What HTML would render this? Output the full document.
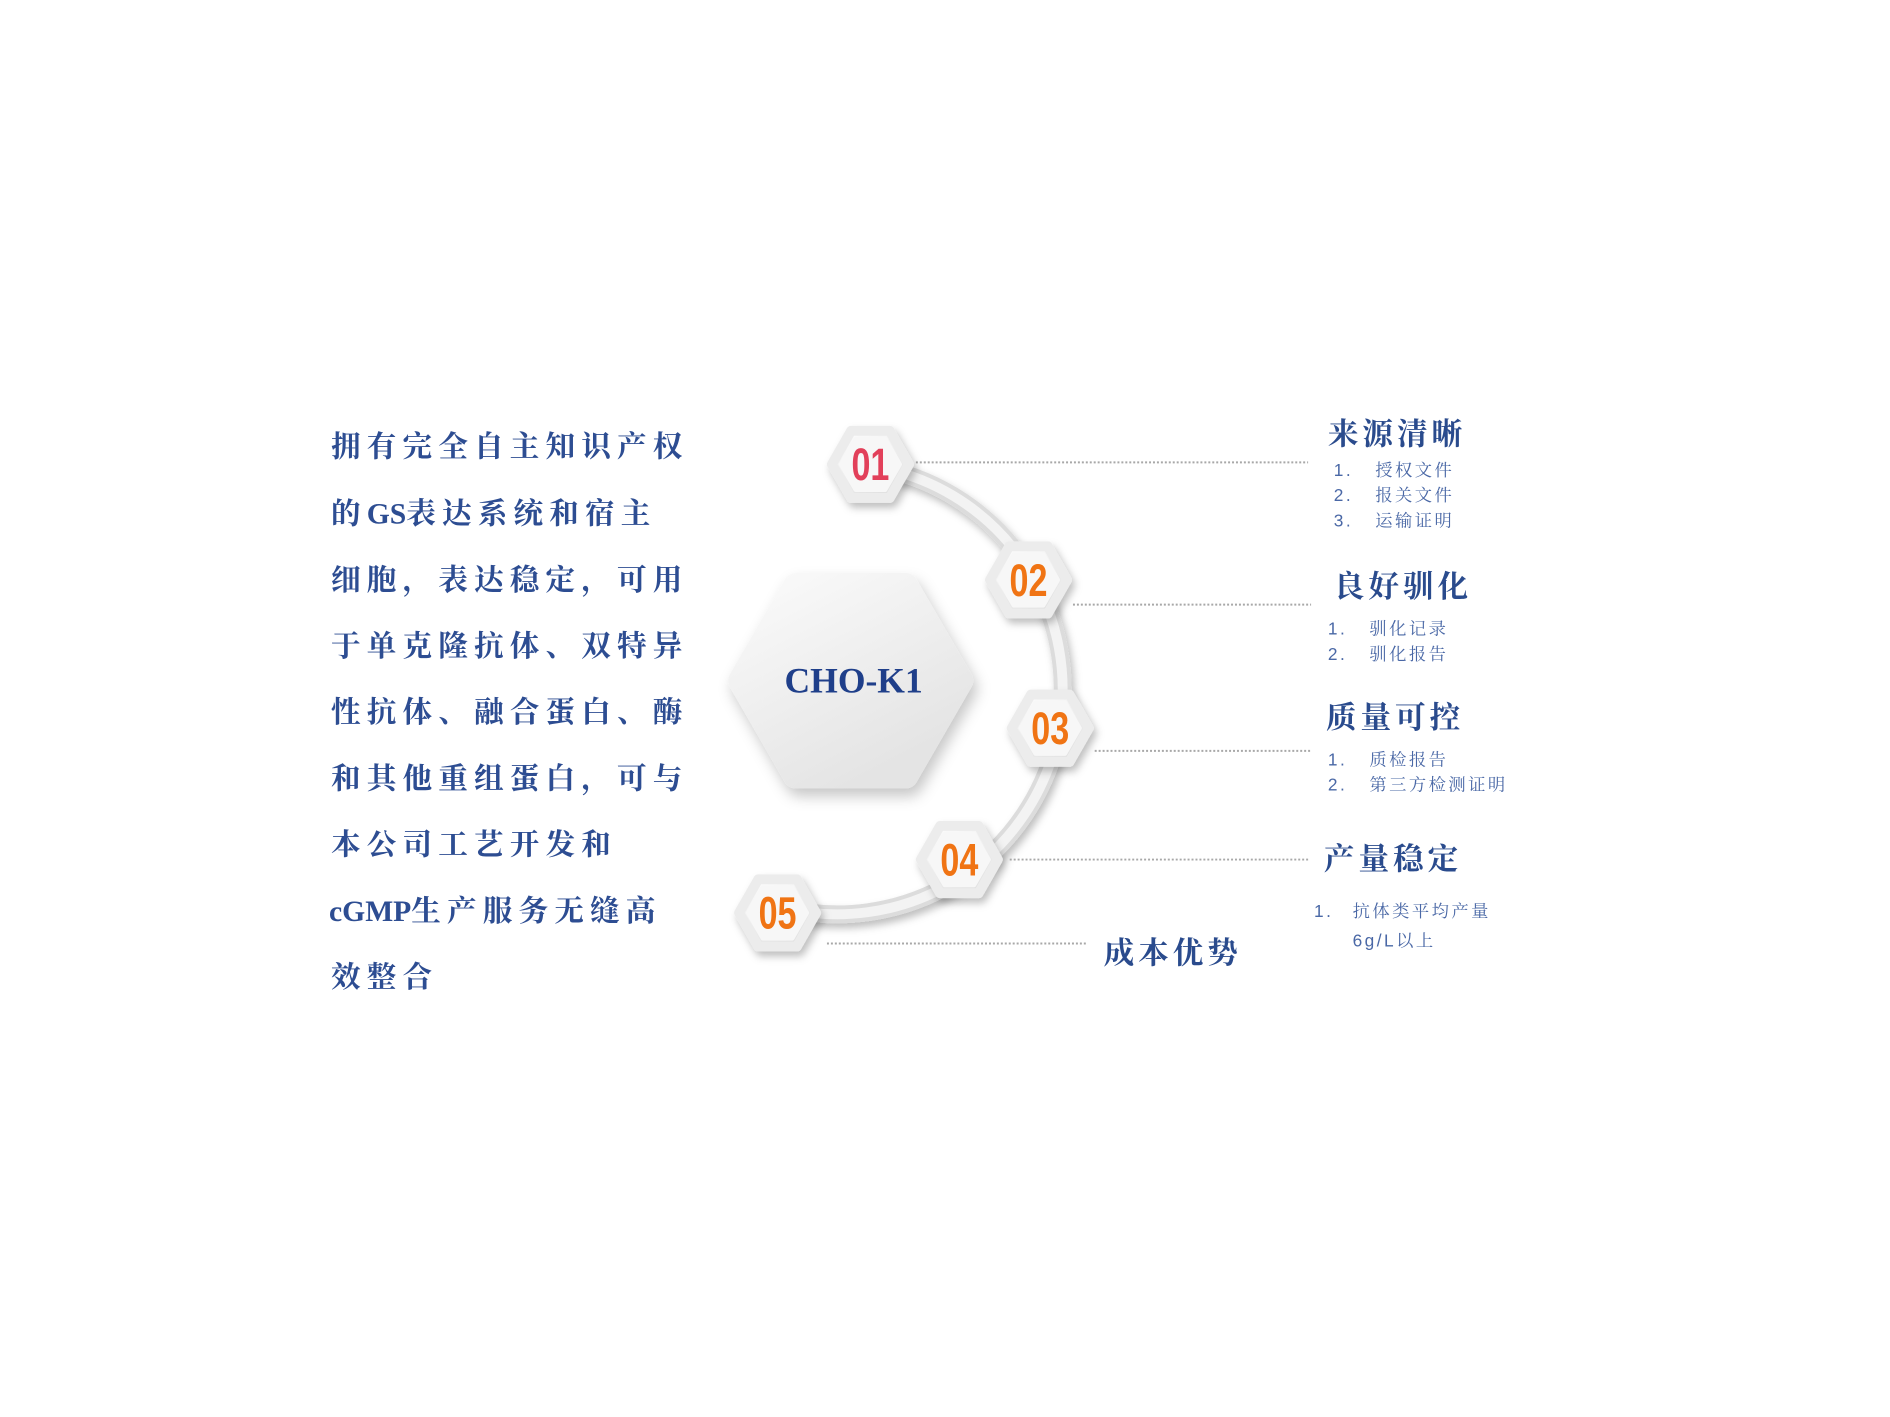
<!DOCTYPE html>
<html><head><meta charset="utf-8"><style>
html,body{margin:0;padding:0;background:#fff;}
svg{display:block}
</style></head><body>
<svg width="1890" height="1417" viewBox="0 0 1890 1417" xmlns="http://www.w3.org/2000/svg">
<defs>
<linearGradient id="hg" x1="0" y1="0" x2="0.6" y2="1">
<stop offset="0" stop-color="#fafafa"/><stop offset="1" stop-color="#e4e4e4"/></linearGradient>
<linearGradient id="sg" x1="0" y1="0" x2="0.5" y2="1">
<stop offset="0" stop-color="#ffffff"/><stop offset="1" stop-color="#e2e2e2"/></linearGradient>
<filter id="sh" x="-30%" y="-30%" width="160%" height="170%">
<feDropShadow dx="4" dy="8" stdDeviation="7" flood-color="#000" flood-opacity="0.22"/></filter>
<filter id="sh2" x="-30%" y="-30%" width="160%" height="170%">
<feDropShadow dx="3" dy="5" stdDeviation="4" flood-color="#000" flood-opacity="0.25"/></filter>
</defs>
<g transform="scale(0.988)">
<!-- left text -->
<g font-family="'Liberation Serif','Noto Serif CJK SC',serif" font-weight="bold" font-size="30" fill="#2d4d92" letter-spacing="6.2">
<text x="335" y="462">拥有完全自主知识产权</text>
<text x="335" y="530">的<tspan letter-spacing="0">GS</tspan>表达系统和宿主</text>
<text x="335" y="597">细胞，表达稳定，可用</text>
<text x="335" y="664">于单克隆抗体、双特异</text>
<text x="335" y="731">性抗体、融合蛋白、酶</text>
<text x="335" y="798">和其他重组蛋白，可与</text>
<text x="335" y="865">本公司工艺开发和</text>
<text x="333" y="932"><tspan letter-spacing="0">cGMP</tspan>生产服务无缝高</text>
<text x="335" y="999">效整合</text>
</g>

<!-- arc -->
<path d="M 882 472 A 228 228 0 1 1 790 918" fill="none" stroke="#dcdcdc" stroke-width="18" filter="url(#sh2)"/>
<path d="M 882 472 A 228 228 0 1 1 790 918" fill="none" stroke="#f3f3f3" stroke-width="10"/>

<!-- dotted lines -->
<g stroke="#a8a8a8" stroke-width="2" stroke-dasharray="2 2">
<line x1="927" y1="468" x2="1324" y2="468"/>
<line x1="1086" y1="612" x2="1327" y2="612"/>
<line x1="1108" y1="760" x2="1326" y2="760"/>
<line x1="1022" y1="870" x2="1326" y2="870"/>
<line x1="837" y1="955" x2="1100" y2="955"/>
</g>

<!-- big hex -->
<g filter="url(#sh)">
<polygon points="750,689 805.5,593 916.5,593 972,689 916.5,785 805.5,785" fill="url(#hg)" stroke="url(#hg)" stroke-width="26" stroke-linejoin="round"/>
</g>
<text x="864" y="701" text-anchor="middle" font-family="'Liberation Serif',serif" font-weight="bold" font-size="36" fill="#1f3f8a">CHO-K1</text>

<!-- small hexes -->
<g>
<g transform="translate(881,470)" filter="url(#sh2)"><polygon points="-39,0 -19.5,-34 19.5,-34 39,0 19.5,34 -19.5,34" fill="url(#sg)" stroke="#ececec" stroke-width="10" stroke-linejoin="round"/><polygon points="-30,0 -15,-26 15,-26 30,0 15,26 -15,26" fill="#f7f7f7" stroke="#f7f7f7" stroke-width="4" stroke-linejoin="round"/></g>
<g transform="translate(1041,587)" filter="url(#sh2)"><polygon points="-39,0 -19.5,-34 19.5,-34 39,0 19.5,34 -19.5,34" fill="url(#sg)" stroke="#ececec" stroke-width="10" stroke-linejoin="round"/><polygon points="-30,0 -15,-26 15,-26 30,0 15,26 -15,26" fill="#f7f7f7" stroke="#f7f7f7" stroke-width="4" stroke-linejoin="round"/></g>
<g transform="translate(1063,737)" filter="url(#sh2)"><polygon points="-39,0 -19.5,-34 19.5,-34 39,0 19.5,34 -19.5,34" fill="url(#sg)" stroke="#ececec" stroke-width="10" stroke-linejoin="round"/><polygon points="-30,0 -15,-26 15,-26 30,0 15,26 -15,26" fill="#f7f7f7" stroke="#f7f7f7" stroke-width="4" stroke-linejoin="round"/></g>
<g transform="translate(971,870)" filter="url(#sh2)"><polygon points="-39,0 -19.5,-34 19.5,-34 39,0 19.5,34 -19.5,34" fill="url(#sg)" stroke="#ececec" stroke-width="10" stroke-linejoin="round"/><polygon points="-30,0 -15,-26 15,-26 30,0 15,26 -15,26" fill="#f7f7f7" stroke="#f7f7f7" stroke-width="4" stroke-linejoin="round"/></g>
<g transform="translate(787,924)" filter="url(#sh2)"><polygon points="-39,0 -19.5,-34 19.5,-34 39,0 19.5,34 -19.5,34" fill="url(#sg)" stroke="#ececec" stroke-width="10" stroke-linejoin="round"/><polygon points="-30,0 -15,-26 15,-26 30,0 15,26 -15,26" fill="#f7f7f7" stroke="#f7f7f7" stroke-width="4" stroke-linejoin="round"/></g>
</g>
<g font-family="'Liberation Sans Narrow','Liberation Sans',sans-serif" font-weight="bold" font-size="46" text-anchor="middle">
<text transform="translate(881,486) scale(0.75,1)" fill="#e2405a">01</text>
<text transform="translate(1041,603) scale(0.75,1)" fill="#f07414">02</text>
<text transform="translate(1063,753) scale(0.75,1)" fill="#f07414">03</text>
<text transform="translate(971,886) scale(0.75,1)" fill="#f07414">04</text>
<text transform="translate(787,940) scale(0.75,1)" fill="#f07414">05</text>
</g>

<!-- right titles -->
<g font-family="'Liberation Serif','Noto Serif CJK SC',serif" font-weight="bold" font-size="31" fill="#2a4b8d" letter-spacing="4">
<text x="1344" y="450">来源清晰</text>
<text x="1350" y="604">良好驯化</text>
<text x="1342" y="737">质量可控</text>
<text x="1340" y="880">产量稳定</text>
<text x="1117" y="975">成本优势</text>
</g>
<g font-family="'Liberation Sans','Noto Serif CJK SC',serif" font-size="17.5" fill="#4a68a6" letter-spacing="2.5">
<text x="1350" y="482">1.</text><text x="1392" y="482">授权文件</text>
<text x="1350" y="507">2.</text><text x="1392" y="507">报关文件</text>
<text x="1350" y="533">3.</text><text x="1392" y="533">运输证明</text>
<text x="1344" y="642">1.</text><text x="1386" y="642">驯化记录</text>
<text x="1344" y="668">2.</text><text x="1386" y="668">驯化报告</text>
<text x="1344" y="775">1.</text><text x="1386" y="775">质检报告</text>
<text x="1344" y="800">2.</text><text x="1386" y="800">第三方检测证明</text>
<text x="1330" y="928">1.</text><text x="1369" y="928">抗体类平均产量</text>
<text x="1369" y="958">6g/L以上</text>
</g>
</g>
</svg>
</body></html>
